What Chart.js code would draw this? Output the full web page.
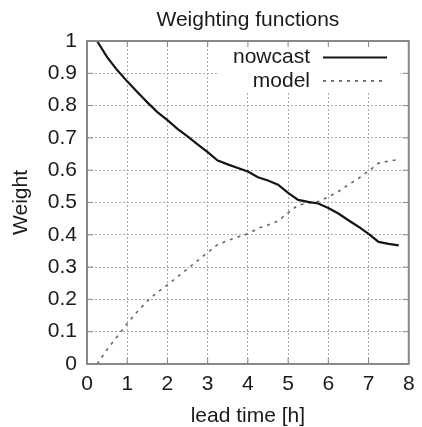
<!DOCTYPE html>
<html>
<head>
<meta charset="utf-8">
<script src="https://cdn.jsdelivr.net/npm/chart.js@4"></script>
<style>
  html, body { margin: 0; padding: 0; background: #fff; }
  #wrap { width: 422px; height: 427px; position: relative; }
</style>
</head>
<body>
<div id="wrap"><canvas id="chart"></canvas></div>
<script>
// lead time in hours, every 15 min
const leadTime = [0.25, 0.5, 0.75, 1.0, 1.25, 1.5, 1.75, 2.0, 2.25, 2.5, 2.75, 3.0, 3.25, 3.5, 3.75, 4.0,
                  4.25, 4.5, 4.75, 5.0, 5.25, 5.5, 5.75, 6.0, 6.25, 6.5, 6.75, 7.0, 7.25, 7.5, 7.75]
const nowcast = [1.0, 0.95, 0.91, 0.875, 0.842, 0.81, 0.78, 0.755, 0.728, 0.705, 0.68, 0.656, 0.63, 0.618, 0.607, 0.596,
                 0.578, 0.568, 0.555, 0.53, 0.508, 0.502, 0.497, 0.483, 0.466, 0.445, 0.425, 0.403, 0.378, 0.372, 0.367]
const model = [0.0, 0.045, 0.085, 0.125, 0.162, 0.195, 0.222, 0.245, 0.27, 0.295, 0.32, 0.345, 0.37, 0.382, 0.393, 0.403,
               0.42, 0.43, 0.443, 0.468, 0.492, 0.498, 0.503, 0.517, 0.534, 0.555, 0.575, 0.597, 0.622, 0.628, 0.633]
const xTickLabels = ['0', '1', '2', '3', '4', '5', '6', '7', '8']
const yTickLabels = ['0', '0.1', '0.2', '0.3', '0.4', '0.5', '0.6', '0.7', '0.8', '0.9', '1']

const FONT = '"Liberation Sans", Arial, sans-serif'
const FSIZE = 21
const textColor = '#1a1a1a'
const frameColor = '#888'

// gnuplot look: white key box top right, frame and inward ticks
const gnuplotBits = {
    id: 'gnuplotBits',
    afterDraw(chart) {
        const ctx = chart.ctx
        const area = chart.chartArea
        const xs = chart.scales.x
        const ys = chart.scales.y

        // key
        ctx.save()
        ctx.fillStyle = '#fff'
        ctx.fillRect(area.left + 131, area.top + 1, 182, 51)
        ctx.font = FSIZE + 'px ' + FONT
        ctx.textAlign = 'right'
        ctx.textBaseline = 'middle'
        chart.data.datasets.forEach((ds, i) => {
            const y = area.top + 16.5 + i * 23.4
            ctx.fillStyle = textColor
            ctx.fillText(ds.label, area.left + 223, y)
            ctx.beginPath()
            ctx.strokeStyle = ds.borderColor
            ctx.lineWidth = ds.borderWidth
            ctx.setLineDash(ds.borderDash || [])
            ctx.moveTo(area.left + 236, y)
            ctx.lineTo(area.left + 300, y)
            ctx.stroke()
        })
        ctx.setLineDash([])

        // frame
        ctx.strokeStyle = frameColor
        ctx.lineWidth = 2
        ctx.strokeRect(area.left, area.top, area.right - area.left, area.bottom - area.top)

        // inward ticks
        ctx.lineWidth = 1
        ctx.beginPath()
        xTickLabels.forEach(t => {
            const px = xs.getPixelForValue(Number(t))
            ctx.moveTo(px, area.bottom); ctx.lineTo(px, area.bottom - 6)
            ctx.moveTo(px, area.top); ctx.lineTo(px, area.top + 6)
        })
        yTickLabels.forEach(t => {
            const py = ys.getPixelForValue(Number(t))
            ctx.moveTo(area.left, py); ctx.lineTo(area.left + 6, py)
            ctx.moveTo(area.right, py); ctx.lineTo(area.right - 6, py)
        })
        ctx.stroke()
        ctx.restore()
    }
}

const gridOpts = { color: '#a8a8a8', lineWidth: 1, drawTicks: false }
const borderOpts = { display: false, dash: [2, 2] }

new Chart(document.getElementById('chart'), {
    type: 'line',
    data: {
        labels: leadTime,
        datasets: [{
            label: 'nowcast',
            data: leadTime.map((t, i) => ({ x: t, y: nowcast[i] })),
            borderColor: '#151515',
            borderWidth: 2.2,
            pointRadius: 0,
            tension: 0
        }, {
            label: 'model',
            data: leadTime.map((t, i) => ({ x: t, y: model[i] })),
            borderColor: '#666',
            borderWidth: 1.6,
            borderDash: [3, 5],
            pointRadius: 0,
            tension: 0
        }]
    },
    options: {
        responsive: true,
        maintainAspectRatio: false,
        animation: false,
        layout: { padding: { left: 0, right: 9, top: 0, bottom: 0 } },
        plugins: {
            legend: { display: false },
            tooltip: { enabled: false },
            title: {
                display: true,
                text: 'Weighting functions',
                fullSize: false,
                color: textColor,
                font: { family: FONT, size: FSIZE, weight: 'normal', lineHeight: 1.2 },
                padding: { top: 7.6, bottom: 8.2 }
            }
        },
        scales: {
            x: {
                type: 'linear',
                min: 0,
                max: 8,
                grid: gridOpts,
                border: borderOpts,
                ticks: {
                    stepSize: 1,
                    padding: 7.4,
                    color: textColor,
                    maxRotation: 0,
                    font: { family: FONT, size: FSIZE, lineHeight: 1.2 },
                    callback: (v, i) => xTickLabels[i]
                },
                title: {
                    display: true,
                    text: 'lead time [h]',
                    color: textColor,
                    font: { family: FONT, size: FSIZE, lineHeight: 1 },
                    padding: { top: 1, bottom: 0 }
                },
                afterFit: (s) => { s.height = 63 }
            },
            y: {
                min: 0,
                max: 1,
                grid: gridOpts,
                border: borderOpts,
                ticks: {
                    stepSize: 0.1,
                    padding: 10,
                    color: textColor,
                    font: { family: FONT, size: FSIZE },
                    callback: (v, i) => yTickLabels[i]
                },
                title: {
                    display: true,
                    text: 'Weight',
                    color: textColor,
                    font: { family: FONT, size: FSIZE, lineHeight: 1 },
                    padding: { top: 10.3, bottom: 0 }
                },
                afterFit: (s) => { s.width = 87 }
            }
        }
    },
    plugins: [gnuplotBits]
})
</script>
</body>
</html>
